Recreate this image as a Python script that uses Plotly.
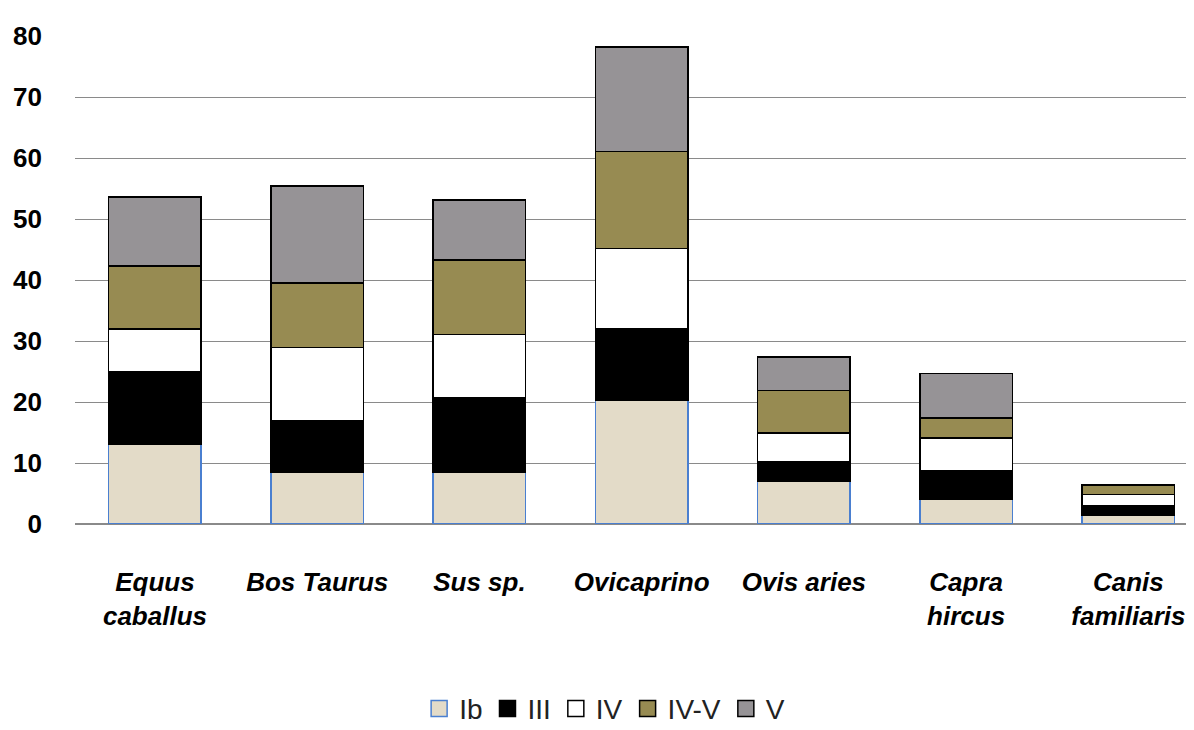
import plotly.graph_objects as go

species = ["<b><i>Equus<br>caballus</i></b>", "<b><i>Bos Taurus</i></b>", "<b><i>Sus sp.</i></b>",
           "<b><i>Ovicaprino</i></b>", "<b><i>Ovis aries</i></b>", "<b><i>Capra<br>hircus</i></b>",
           "<b><i>Canis<br>familiaris</i></b>"]

ib = [13.0, 8.5, 8.5, 20.3, 7.0, 4.0, 1.4]
iii = [12.0, 8.5, 12.2, 11.7, 3.2, 4.8, 1.6]
iv = [7.0, 11.9, 10.4, 13.2, 4.7, 5.3, 1.8]
iv_v = [10.3, 10.6, 12.2, 15.9, 7.0, 3.3, 1.6]
v = [11.3, 15.9, 9.8, 17.1, 5.5, 7.3, 0.0]

series = [
    ("Ib", ib, "#E3DBC8", "#4A7FD0"),
    ("III", iii, "#000000", "#000000"),
    ("IV", iv, "#FFFFFF", "#000000"),
    ("IV-V", iv_v, "#978B52", "#000000"),
    ("V", v, "#969396", "#000000"),
]

x = list(range(len(species)))

fig = go.Figure()
for name, vals, fill, edge in series:
    fig.add_trace(go.Bar(
        x=x, y=vals, name=name, showlegend=False, legendgroup=name,
        marker=dict(color=fill, line=dict(color=edge, width=1.5)),
    ))
    # legend entry with a bigger square swatch
    fig.add_trace(go.Scatter(
        x=[None], y=[None], name=name, mode="markers", legendgroup=name,
        marker=dict(symbol="square", size=16, color=fill, line=dict(color=edge, width=1.5)),
    ))

fig.update_layout(
    barmode="stack",
    bargap=0.43,
    width=1194, height=730,
    margin=dict(l=67, r=12, t=28, b=214),
    plot_bgcolor="white",
    paper_bgcolor="white",
    font=dict(family="Liberation Sans, Arial, sans-serif", color="black"),
    legend=dict(orientation="h", x=0.475, xanchor="center", yref="container", y=0.04,
                yanchor="middle", font=dict(size=28, color="#222"), traceorder="normal",
                itemwidth=30),
    xaxis=dict(tickmode="array", tickvals=x, ticktext=species, range=[-0.493, 6.38],
               tickfont=dict(size=26, color="black"), showgrid=False, ticks="",
               ticklabelstandoff=40, automargin=False),
    yaxis=dict(range=[0, 80], dtick=10, showgrid=True, gridcolor="#8a8a8a", gridwidth=1,
               zeroline=True, zerolinecolor="#8a8a8a", zerolinewidth=1.5,
               tickfont=dict(size=26, color="black"), tickprefix="<b>", ticksuffix="</b>",
               ticklabelstandoff=32, automargin=False),
)

fig.write_html("out.html")
